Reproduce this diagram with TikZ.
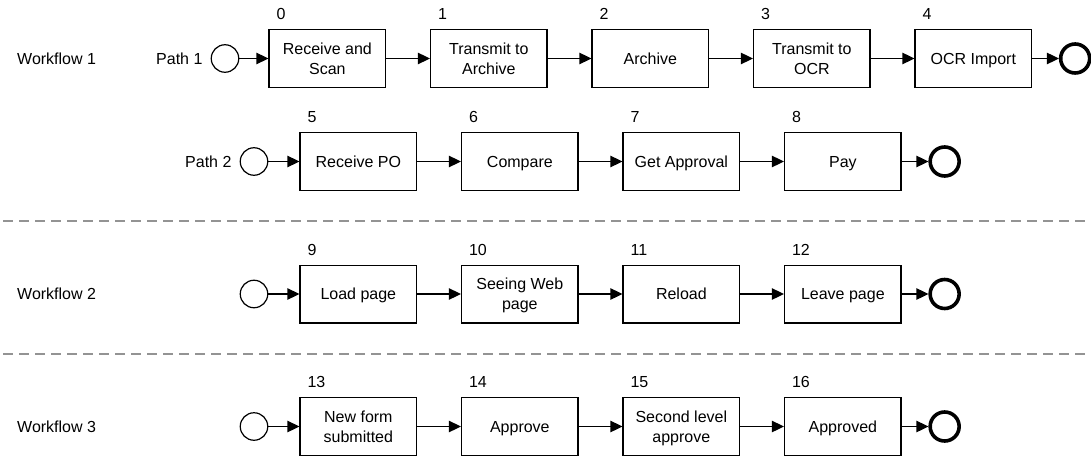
\documentclass[tikz,border=0pt]{standalone}
\usepackage{fontspec}
\setmainfont{Liberation Sans}
\usepackage{tikz}
\usetikzlibrary{arrows.meta}
\usetikzlibrary{positioning}
\tikzset{
    tnode/.style = {align=center, inner sep=0pt, text centered, font=\fontsize{16pt}{20pt}\selectfont},
    task_node/.style = {tnode, rectangle, draw=black, line width=1.4pt, minimum width=116.6pt, minimum height=57.6pt, text depth=0pt},
    start_node/.style = {tnode, circle, draw=black, line width=1.2pt, minimum size=27.5pt},
    end_node/.style = {tnode, circle, draw=black, line width=3.6pt, minimum size=29pt},
    num_node/.style = {tnode, anchor=south west},
    lane_label/.style = {tnode, anchor=west},
    flow/.style = {-{Triangle[length=12pt, width=11.5pt]}, line width=1.3pt},
    divider/.style = {draw=gray!85, line width=2pt, dash pattern=on 10pt off 6pt}
}
\begin{document}
\begin{tikzpicture}
                    [x=1pt, y=-1pt, node distance=43.5pt]
                    \useasboundingbox (0,0) rectangle (1091,457);

                    % workflow 1, path 1
                    \node [lane_label] (w1) at (17,58.5) {Workflow 1};
                    \node [start_node] (s1) at (225,58.5) {};
                    \node [tnode, left=8pt of s1] (p1) {Path 1};
                    \node [task_node, right=29pt of s1] (b0) {Receive and\\Scan};
                    \node [task_node, right=of b0] (b1) {Transmit to\\Archive};
                    \node [task_node, right=of b1] (b2) {Archive};
                    \node [task_node, right=of b2] (b3) {Transmit to\\OCR};
                    \node [task_node, right=of b3] (b4) {OCR Import};
                    \node [end_node, right=26.5pt of b4] (e1) {};

                    % workflow 1, path 2
                    \node [start_node] (s2) at (254,161.5) {};
                    \node [tnode, left=8pt of s2] (p2) {Path 2};
                    \node [task_node, right=31pt of s2] (b5) {Receive PO};
                    \node [task_node, right=of b5] (b6) {Compare};
                    \node [task_node, right=of b6] (b7) {Get Approval};
                    \node [task_node, right=of b7] (b8) {Pay};
                    \node [end_node, right=26.5pt of b8] (e2) {};

                    % workflow 2
                    \node [lane_label] (w2) at (17,294) {Workflow 2};
                    \node [start_node] (s3) at (254,294) {};
                    \node [task_node, right=31pt of s3] (b9) {Load page};
                    \node [task_node, right=of b9] (b10) {Seeing Web\\page};
                    \node [task_node, right=of b10] (b11) {Reload};
                    \node [task_node, right=of b11] (b12) {Leave page};
                    \node [end_node, right=26.5pt of b12] (e3) {};

                    % workflow 3
                    \node [lane_label] (w3) at (17,426.5) {Workflow 3};
                    \node [start_node] (s4) at (254,426.5) {};
                    \node [task_node, right=31pt of s4] (b13) {New form\\submitted};
                    \node [task_node, right=of b13] (b14) {Approve};
                    \node [task_node, right=of b14] (b15) {Second level\\approve};
                    \node [task_node, right=of b15] (b16) {Approved};
                    \node [end_node, right=26.5pt of b16] (e4) {};

                    % step numbers
                    \node [num_node, above right=9pt and 8pt of b0.north west] (n0) {0};
                    \node [num_node, above right=9pt and 8pt of b1.north west] (n1) {1};
                    \node [num_node, above right=9pt and 8pt of b2.north west] (n2) {2};
                    \node [num_node, above right=9pt and 8pt of b3.north west] (n3) {3};
                    \node [num_node, above right=9pt and 8pt of b4.north west] (n4) {4};
                    \node [num_node, above right=9pt and 8pt of b5.north west] (n5) {5};
                    \node [num_node, above right=9pt and 8pt of b6.north west] (n6) {6};
                    \node [num_node, above right=9pt and 8pt of b7.north west] (n7) {7};
                    \node [num_node, above right=9pt and 8pt of b8.north west] (n8) {8};
                    \node [num_node, above right=9pt and 8pt of b9.north west] (n9) {9};
                    \node [num_node, above right=9pt and 8pt of b10.north west] (n10) {10};
                    \node [num_node, above right=9pt and 8pt of b11.north west] (n11) {11};
                    \node [num_node, above right=9pt and 8pt of b12.north west] (n12) {12};
                    \node [num_node, above right=9pt and 8pt of b13.north west] (n13) {13};
                    \node [num_node, above right=9pt and 8pt of b14.north west] (n14) {14};
                    \node [num_node, above right=9pt and 8pt of b15.north west] (n15) {15};
                    \node [num_node, above right=9pt and 8pt of b16.north west] (n16) {16};

                    % connectors
                    \path [flow] (s1) edge (b0) (b0) edge (b1) (b1) edge (b2) (b2) edge (b3) (b3) edge (b4) (b4) edge (e1);
                    \path [flow] (s2) edge (b5) (b5) edge (b6) (b6) edge (b7) (b7) edge (b8) (b8) edge (e2);
                    \path [flow] (s3) edge (b9) (b9) edge (b10) (b10) edge (b11) (b11) edge (b12) (b12) edge (e3);
                    \path [flow] (s4) edge (b13) (b13) edge (b14) (b14) edge (b15) (b15) edge (b16) (b16) edge (e4);

                    % lane dividers
                    \draw [divider] (3,221) -- (1091,221);
                    \draw [divider] (3,354) -- (1091,354);
                \end{tikzpicture}
\end{document}
